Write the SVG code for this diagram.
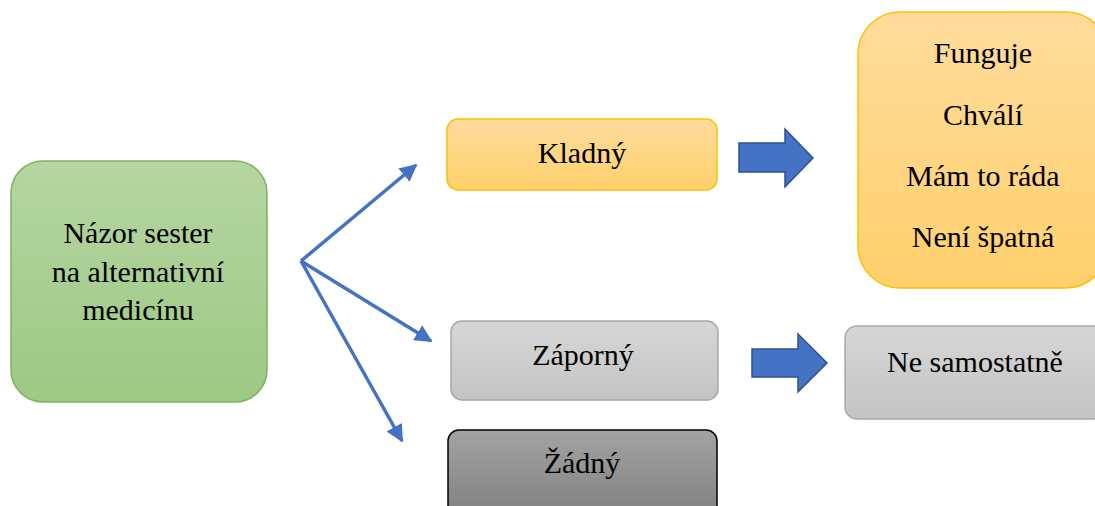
<svg xmlns="http://www.w3.org/2000/svg" width="1095" height="506" viewBox="0 0 1095 506" font-family="Liberation Serif, DejaVu Serif, serif">
<style>
.t{font-size:30px;fill:#000;text-anchor:middle}
.conn{stroke:#4472C4;stroke-width:3.5;fill:none}
.block{fill:#4472C4;stroke:#2F528F;stroke-width:1.5}
</style>
<defs>
<linearGradient id="gG" x1="0" y1="0" x2="0" y2="1"><stop offset="0" stop-color="#b6d5a2"/><stop offset="1" stop-color="#9cc983"/></linearGradient>
<linearGradient id="gO" x1="0" y1="0" x2="0" y2="1"><stop offset="0" stop-color="#ffdc9c"/><stop offset="1" stop-color="#ffd06c"/></linearGradient>
<linearGradient id="gL" x1="0" y1="0" x2="0" y2="1"><stop offset="0" stop-color="#d6d6d6"/><stop offset="1" stop-color="#c4c4c4"/></linearGradient>
<linearGradient id="gD" x1="0" y1="0" x2="0" y2="1"><stop offset="0" stop-color="#a3a3a3"/><stop offset="1" stop-color="#7f7f7f"/></linearGradient>
<marker id="ah" viewBox="0 0 10 10" refX="9" refY="5" markerWidth="5" markerHeight="5" markerUnits="strokeWidth" orient="auto"><path d="M0,0 L10,5 L0,10 z" fill="#4472C4"/></marker>
</defs>
<g id="connectors">
<line class="conn" x1="301" y1="261" x2="416" y2="165" marker-end="url(#ah)"/>
<line class="conn" x1="301" y1="261" x2="431" y2="341" marker-end="url(#ah)"/>
<line class="conn" x1="301" y1="261" x2="402" y2="441" marker-end="url(#ah)"/>
<path class="block" d="M739,143 H785 V129 L813,158 L785,187 V172 H739 Z"/>
<path class="block" d="M752,349 H798 V334 L827,363 L798,392 V377 H752 Z"/>
</g>
<g id="node-root">
<rect x="11" y="161" width="256" height="241" rx="32" fill="url(#gG)" stroke="#7fb35f" stroke-width="1.5"/>
<text class="t" font-family="Liberation Serif, DejaVu Serif, serif" x="138" y="243">Názor sester</text>
<text class="t" font-family="Liberation Serif, DejaVu Serif, serif" x="138" y="282">na alternativní</text>
<text class="t" font-family="Liberation Serif, DejaVu Serif, serif" x="138" y="320">medicínu</text>
</g>
<g id="node-kladny">
<rect x="447" y="119" width="270" height="71" rx="11" fill="url(#gO)" stroke="#FFC000" stroke-width="1.5"/>
<text class="t" font-family="Liberation Serif, DejaVu Serif, serif" x="582" y="163">Kladný</text>
</g>
<g id="node-zaporny">
<rect x="451" y="321" width="267" height="79" rx="11" fill="url(#gL)" stroke="#a8a8a8" stroke-width="1.5"/>
<text class="t" font-family="Liberation Serif, DejaVu Serif, serif" x="583" y="365">Záporný</text>
</g>
<g id="node-zadny">
<rect x="448" y="430" width="269" height="90" rx="11" fill="url(#gD)" stroke="#000" stroke-width="1.5"/>
<text class="t" font-family="Liberation Serif, DejaVu Serif, serif" x="582" y="473">Žádný</text>
</g>
<g id="node-pozitiva">
<rect x="858" y="12" width="250" height="276" rx="42" fill="url(#gO)" stroke="#FFC000" stroke-width="1.5"/>
<text class="t" font-family="Liberation Serif, DejaVu Serif, serif" x="983" y="63">Funguje</text>
<text class="t" font-family="Liberation Serif, DejaVu Serif, serif" x="983" y="125">Chválí</text>
<text class="t" font-family="Liberation Serif, DejaVu Serif, serif" x="983" y="186">Mám to ráda</text>
<text class="t" font-family="Liberation Serif, DejaVu Serif, serif" x="983" y="247">Není špatná</text>
</g>
<g id="node-nesamostatne">
<rect x="845" y="326" width="262" height="93" rx="12" fill="url(#gL)" stroke="#a8a8a8" stroke-width="1.5"/>
<text class="t" font-family="Liberation Serif, DejaVu Serif, serif" x="975" y="372">Ne samostatně</text>
</g>
</svg>
